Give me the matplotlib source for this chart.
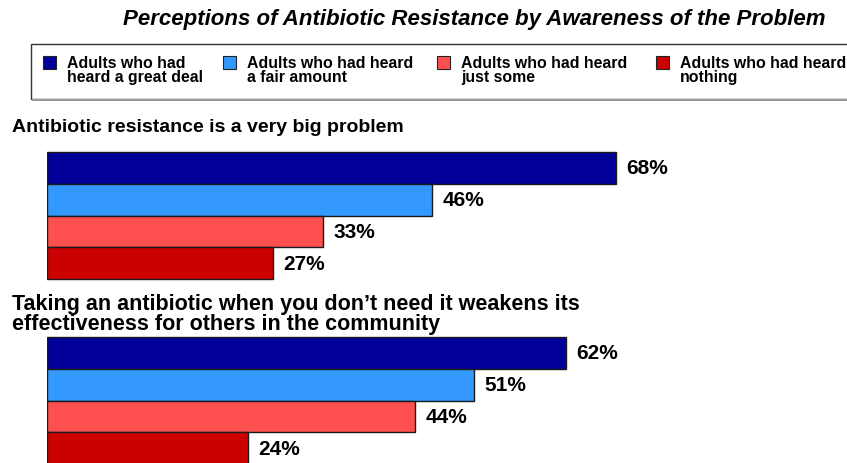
import matplotlib
matplotlib.use("Agg")
import matplotlib.pyplot as plt
from matplotlib.patches import Rectangle

plt.rcParams['font.family'] = ['Liberation Sans', 'DejaVu Sans']

W, H = 847, 464

title = "Perceptions of Antibiotic Resistance by Awareness of the Problem"
series = [
    "Adults who had\nheard a great deal",
    "Adults who had heard\na fair amount",
    "Adults who had heard\njust some",
    "Adults who had heard\nnothing",
]
colors = ["#000099", "#3399FF", "#FF5050", "#CC0000"]
questions = [
    "Antibiotic resistance is a very big problem",
    "Taking an antibiotic when you don\u2019t need it weakens its\neffectiveness for others in the community",
]
values = [
    [68, 46, 33, 27],
    [62, 51, 44, 24],
]

fig = plt.figure(figsize=(W / 100, H / 100), dpi=100)


def fx(x):
    return x / W


def fy(y):
    return 1 - y / H


# Title
fig.text(fx(474), fy(20), title, ha="center", va="center",
         fontsize=16, fontweight="bold", fontstyle="italic")

# Legend frame with a soft shadow along the bottom
fig.patches.append(Rectangle((fx(31), fy(100)), fx(830), fy(45) - fy(100),
                             transform=fig.transFigure, facecolor="white",
                             edgecolor="#333333", lw=1.0))
fig.patches.append(Rectangle((fx(32), fy(101.5)), fx(830), fy(100) - fy(101.5),
                             transform=fig.transFigure, facecolor="#999999",
                             edgecolor="none"))
legend_x = [43, 223, 437, 656]
for lx, name, c in zip(legend_x, series, colors):
    fig.patches.append(Rectangle((fx(lx), fy(70)), fx(13), fy(57) - fy(70),
                                 transform=fig.transFigure, facecolor=c,
                                 edgecolor="#222222", lw=0.8))
    fig.text(fx(lx + 24), fy(55.5), name, ha="left", va="top",
             fontsize=11.4, fontweight="bold", linespacing=0.95)

# Bars
ax = fig.add_axes([fx(47), 0, fx(800), 1])
px_per_pct = 8.37
ax.set_xlim(0, 800 / px_per_pct)
ax.set_ylim(H, 0)
ax.axis("off")

group_tops = [153, 338]
bar_h = 31.75
label_style = [(12, 128, 14), (12, 314.5, 15.5)]
for g, (top, vals, q) in enumerate(zip(group_tops, values, questions)):
    lx, ly, fs = label_style[g]
    fig.text(fx(lx), fy(ly), q, ha="left", va="center",
             fontsize=fs, fontweight="bold", linespacing=0.92)
    ys = [top + bar_h * (i + 0.5) for i in range(len(vals))]
    ax.barh(ys, vals, height=bar_h, color=colors, edgecolor="#1a1a1a",
            lw=1.0, clip_on=True)
    for y, v in zip(ys, vals):
        ax.annotate(f"{v}%", (v, y), xytext=(7.5, 0), textcoords="offset points",
                    ha="left", va="center", fontsize=15, fontweight="bold")

fig.savefig("out.png", dpi=100)
